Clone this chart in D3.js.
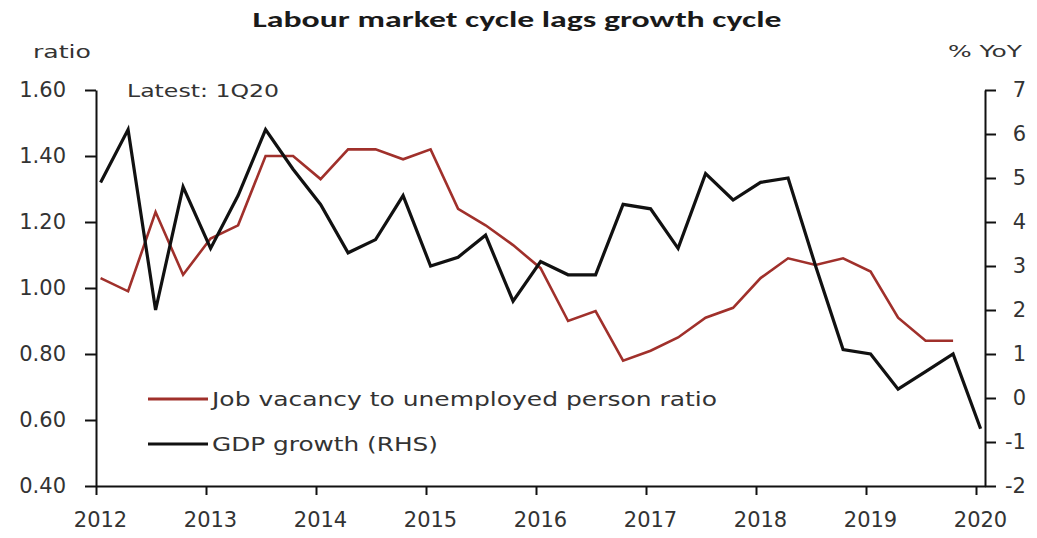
<!DOCTYPE html>
<html>
<head>
<meta charset="utf-8">
<script src="https://cdn.jsdelivr.net/npm/d3@7"></script>
<style>
  body { margin: 0; background: #fff; }
  svg { display: block; }
</style>
</head>
<body>
<svg id="chart" width="1037" height="538"></svg>
<script>
// Quarterly observations, 1Q12 .. 1Q20
const quarters = [
  "1Q12","2Q12","3Q12","4Q12","1Q13","2Q13","3Q13","4Q13",
  "1Q14","2Q14","3Q14","4Q14","1Q15","2Q15","3Q15","4Q15",
  "1Q16","2Q16","3Q16","4Q16","1Q17","2Q17","3Q17","4Q17",
  "1Q18","2Q18","3Q18","4Q18","1Q19","2Q19","3Q19","4Q19","1Q20"
];
// Job vacancy to unemployed person ratio (left axis), through 4Q19
const vacancyRatio = [
  1.03, 0.99, 1.23, 1.04, 1.15, 1.19, 1.40, 1.40,
  1.33, 1.42, 1.42, 1.39, 1.42, 1.24, 1.19, 1.13,
  1.06, 0.90, 0.93, 0.78, 0.81, 0.85, 0.91, 0.94,
  1.03, 1.09, 1.07, 1.09, 1.05, 0.91, 0.84, 0.84
];
// GDP growth, % YoY (right axis), through 1Q20
const gdpGrowth = [
  4.9, 6.1, 2.0, 4.8, 3.4, 4.6, 6.1, 5.2,
  4.4, 3.3, 3.6, 4.6, 3.0, 3.2, 3.7, 2.2,
  3.1, 2.8, 2.8, 4.4, 4.3, 3.4, 5.1, 4.5,
  4.9, 5.0, 3.0, 1.1, 1.0, 0.2, 0.6, 1.0, -0.7
];
const yearTicks  = [2012, 2013, 2014, 2015, 2016, 2017, 2018, 2019, 2020];
const ratioTicks = [0.40, 0.60, 0.80, 1.00, 1.20, 1.40, 1.60];
const yoyTicks   = [-2, -1, 0, 1, 2, 3, 4, 5, 6, 7];

const seriesNames = ["Job vacancy to unemployed person ratio", "GDP growth (RHS)"];
const seriesColors = ["#a0302b", "#111111"];

const svg = d3.select("#chart");
const plot = { left: 96, right: 985, top: 90, bottom: 486 };
const tickFont = "'DejaVu Sans', Verdana, sans-serif";

// each quarter is plotted half a month into the quarter
function quarterToYear(q) {
  const n = +q[0];
  const yr = 2000 + +q.slice(2);
  return yr + (n - 1) / 4 + 1 / 24;
}

const x = d3.scaleLinear()
  .domain([2012, 2012 + (plot.right - plot.left) / 110])
  .range([plot.left, plot.right]);
const yL = d3.scaleLinear().domain([0.4, 1.6]).range([plot.bottom, plot.top]);
const yR = d3.scaleLinear().domain([-2, 7]).range([plot.bottom, plot.top]);

// Title
svg.append("text")
  .attr("x", 517).attr("y", 27)
  .attr("text-anchor", "middle")
  .attr("font-family", "Carlito, Lato, 'Open Sans', sans-serif")
  .attr("font-weight", "bold")
  .attr("font-size", 22)
  .attr("fill", "#1a1a1a")
  .attr("textLength", 529)
  .attr("lengthAdjust", "spacingAndGlyphs")
  .text("Labour market cycle lags growth cycle");

// Axis unit labels
svg.append("text")
  .attr("x", 33).attr("y", 58)
  .attr("font-family", tickFont).attr("font-size", 17).attr("fill", "#333")
  .attr("textLength", 58).attr("lengthAdjust", "spacingAndGlyphs")
  .text("ratio");
svg.append("text")
  .attr("x", 948).attr("y", 57)
  .attr("font-family", tickFont).attr("font-size", 16).attr("fill", "#333")
  .attr("textLength", 74).attr("lengthAdjust", "spacingAndGlyphs")
  .text("% YoY");

// Annotation
svg.append("text")
  .attr("x", 127).attr("y", 97)
  .attr("font-family", tickFont).attr("font-size", 18).attr("fill", "#333")
  .attr("textLength", 152).attr("lengthAdjust", "spacingAndGlyphs")
  .text("Latest: 1Q20");

// Axes
function styleAxis(g) {
  g.select(".domain").attr("stroke", "#111").attr("stroke-width", 2);
  g.selectAll(".tick line").attr("stroke", "#111").attr("stroke-width", 2);
  g.selectAll(".tick text")
    .attr("font-family", tickFont)
    .attr("font-size", 21)
    .attr("fill", "#333");
}

const leftAxis = svg.append("g")
  .attr("transform", `translate(${plot.left},0)`)
  .call(d3.axisLeft(yL).tickValues(ratioTicks).tickFormat(d3.format(".2f"))
    .tickSizeInner(11).tickSizeOuter(0).tickPadding(19));
styleAxis(leftAxis);

const rightAxis = svg.append("g")
  .attr("transform", `translate(${plot.right},0)`)
  .call(d3.axisRight(yR).tickValues(yoyTicks).tickFormat(d3.format("d"))
    .tickSizeInner(11).tickSizeOuter(0));
styleAxis(rightAxis);
rightAxis.selectAll(".tick text")
  .attr("text-anchor", "end")
  .attr("x", 41)
  .text(d => d < 0 ? "-" + Math.abs(d) : String(d));

const bottomAxis = svg.append("g")
  .attr("transform", `translate(0,${plot.bottom})`)
  .call(d3.axisBottom(x).tickValues(yearTicks).tickFormat(d3.format("d"))
    .tickSizeInner(9).tickSizeOuter(0));
styleAxis(bottomAxis);
bottomAxis.selectAll(".tick text")
  .attr("x", 4).attr("y", 41).attr("dy", 0);

// Series lines
const vacancyLine = d3.line()
  .x((d, i) => x(quarterToYear(quarters[i])))
  .y(d => yL(d));
const gdpLine = d3.line()
  .x((d, i) => x(quarterToYear(quarters[i])))
  .y(d => yR(d));

svg.append("path")
  .datum(vacancyRatio)
  .attr("d", vacancyLine)
  .attr("fill", "none")
  .attr("stroke", seriesColors[0])
  .attr("stroke-width", 2.6);

svg.append("path")
  .datum(gdpGrowth)
  .attr("d", gdpLine)
  .attr("fill", "none")
  .attr("stroke", seriesColors[1])
  .attr("stroke-width", 3.2);

// Legend
const legendRows = [
  { name: seriesNames[0], color: seriesColors[0], y: 399, width: 505 },
  { name: seriesNames[1], color: seriesColors[1], y: 444, width: 226 }
];
const legend = svg.append("g");
legendRows.forEach(r => {
  legend.append("line")
    .attr("x1", 148).attr("x2", 208)
    .attr("y1", r.y).attr("y2", r.y)
    .attr("stroke", r.color).attr("stroke-width", 3);
  legend.append("text")
    .attr("x", 212).attr("y", r.y + 7)
    .attr("font-family", tickFont).attr("font-size", 20).attr("fill", "#333")
    .attr("textLength", r.width).attr("lengthAdjust", "spacingAndGlyphs")
    .text(r.name);
});
</script>
</body>
</html>
